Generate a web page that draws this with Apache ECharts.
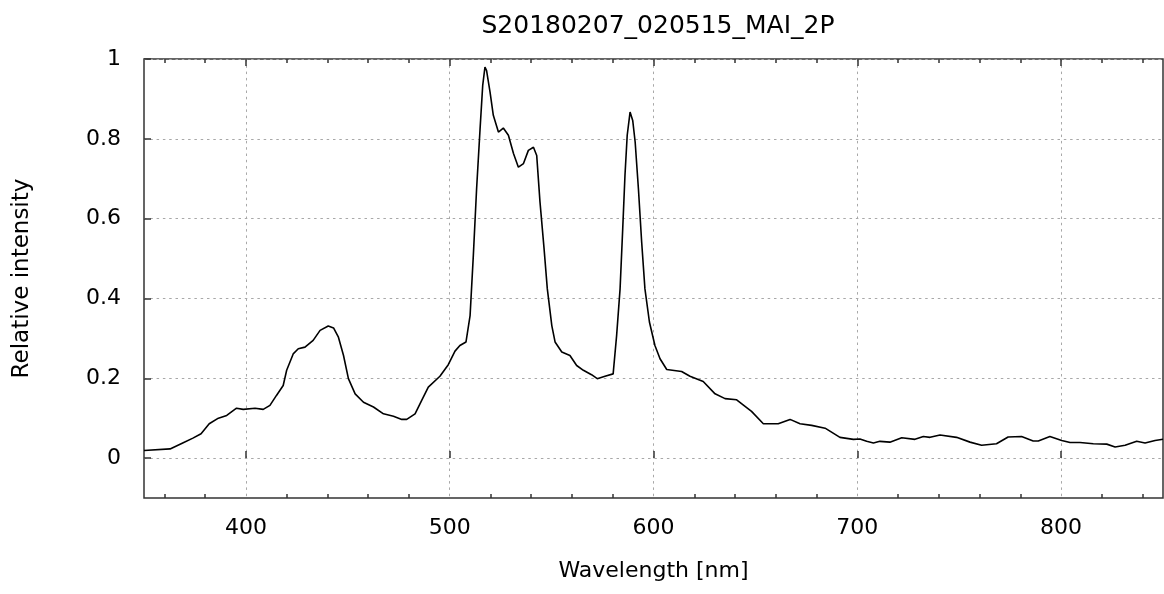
<!DOCTYPE html>
<html>
<head>
<meta charset="utf-8">
<script src="https://cdn.jsdelivr.net/npm/echarts@6/dist/echarts.min.js"></script>
<style>
html,body{margin:0;padding:0;background:#fff;}
#chart{width:1164px;height:594px;}
</style>
</head>
<body>
<div id="chart"></div>
<script>
const chartTitle = 'S20180207_020515_MAI_2P';
const xName = 'Wavelength [nm]';
const yName = 'Relative intensity';

const wavelengthNm = [
350,362.8,369,374,378,382,386.5,390.6,395.4,398.7,404.5,408.5,411.8,415,418.3,420,423.2,425.7,429,433,
436.4,440.4,443,445.4,447.9,450.3,453.6,457.7,462.6,467.5,472.4,476.5,478.9,483,486.2,489.5,495.2,499.3,502.6,505,
508,510,511.6,513.2,514.9,516.2,517.3,518.1,519.8,521.4,523.9,526.3,528.8,531.3,533.7,536.2,538.6,541.1,542.7,544.3,
546.3,547.9,550.1,551.7,555,559,562.3,565.6,569.6,572.4,576.2,580.2,581.9,583.6,584.9,586,587.1,588.5,589.8,591,
592.6,594.2,595.8,598,600.7,603.2,606.5,613.8,617.9,624.4,630.2,635.1,640.8,648.1,653.9,661.2,667,671.9,677.6,684.2,
691.5,698.1,701.3,704.6,707.9,711.1,716,721.8,728.3,732.4,735.7,740.6,748.7,755.3,761,768.3,774,780.6,786.3,788.8,
794.5,800.3,804.4,809.3,815.8,822.4,826.5,831.4,837.1,841.2,846.1,850
];
const relativeIntensity = [
0.019,0.023,0.038,0.05,0.061,0.086,0.10,0.107,0.125,0.122,0.125,0.122,0.132,0.157,0.182,0.22,0.261,0.274,0.278,0.295,
0.32,0.331,0.326,0.303,0.257,0.199,0.161,0.14,0.128,0.111,0.105,0.097,0.097,0.111,0.144,0.178,0.205,0.234,0.268,0.282,
0.291,0.357,0.508,0.675,0.825,0.934,0.98,0.971,0.917,0.859,0.817,0.827,0.809,0.763,0.729,0.738,0.771,0.779,0.758,0.642,
0.525,0.424,0.332,0.291,0.266,0.257,0.232,0.22,0.209,0.199,0.205,0.211,0.307,0.424,0.575,0.708,0.809,0.867,0.846,0.792,
0.675,0.541,0.424,0.341,0.282,0.249,0.222,0.217,0.205,0.192,0.161,0.149,0.146,0.117,0.086,0.086,0.097,0.086,0.082,0.075,
0.052,0.047,0.048,0.042,0.038,0.042,0.04,0.051,0.047,0.054,0.052,0.058,0.052,0.04,0.032,0.036,0.053,0.054,0.043,0.043,
0.054,0.044,0.039,0.039,0.036,0.035,0.028,0.032,0.042,0.038,0.044,0.047
];

const xMajorTicks = [400, 500, 600, 700, 800];
const xMinorTicks = [360, 380, 420, 440, 460, 480, 520, 540, 560, 580, 620, 640, 660, 680, 720, 740, 760, 780, 820, 840];
const yTicks = [0, 0.2, 0.4, 0.6, 0.8, 1];
const xRange = [350, 850];
const yRange = [-0.1, 1];

const seriesData = wavelengthNm.map((w, i) => [w, relativeIntensity[i]]);

const FONT = 'DejaVu Sans';
const gridLine = {show: true, lineStyle: {color: '#a8a8a8', width: 1, type: [2.5, 3.8]}};

function xAxisDef(position, ticks, len, opts) {
  return Object.assign({
    type: 'value', min: xRange[0], max: xRange[1], position: position,
    axisLine: {show: false},
    axisTick: {show: true, inside: true, length: len, customValues: ticks, lineStyle: {color: '#333', width: 1.5}},
    axisLabel: {show: false},
    splitLine: {show: false}
  }, opts || {});
}

const chart = echarts.init(document.getElementById('chart'), null, {renderer: 'canvas'});
chart.setOption({
  animation: false,
  backgroundColor: '#fff',
  title: {
    text: chartTitle, left: 653, top: 9, textAlign: 'center',
    textStyle: {fontFamily: FONT, fontSize: 25, fontWeight: 'normal', color: '#000'}
  },
  grid: {left: 144, right: 1, top: 59, bottom: 96, show: true, borderColor: '#333', borderWidth: 1.5, backgroundColor: 'transparent'},
  xAxis: [
    xAxisDef('bottom', xMajorTicks, 7, {
      name: xName, nameLocation: 'middle', nameGap: 62,
      nameTextStyle: {fontFamily: FONT, fontSize: 22, color: '#000'},
      axisLabel: {show: true, customValues: xMajorTicks, margin: 19, fontFamily: FONT, fontSize: 22, color: '#000'},
      splitLine: gridLine
    }),
    xAxisDef('bottom', xMinorTicks, 4),
    xAxisDef('top', xMajorTicks, 7),
    xAxisDef('top', xMinorTicks, 4)
  ],
  yAxis: [{
    type: 'value', min: yRange[0], max: yRange[1], position: 'left',
    name: yName, nameLocation: 'middle', nameGap: 110, nameRotate: 90,
    nameTextStyle: {fontFamily: FONT, fontSize: 23, color: '#000'},
    axisLine: {show: false},
    axisTick: {show: true, inside: true, length: 7, customValues: yTicks, lineStyle: {color: '#333', width: 1.5}},
    axisLabel: {show: true, customValues: yTicks, margin: 23, fontFamily: FONT, fontSize: 22, color: '#000'},
    splitLine: gridLine
  }],
  series: [{
    type: 'line', xAxisIndex: 0, yAxisIndex: 0,
    data: seriesData, showSymbol: false, smooth: false,
    lineStyle: {color: '#000', width: 1.6}
  }]
});
</script>
</body>
</html>
